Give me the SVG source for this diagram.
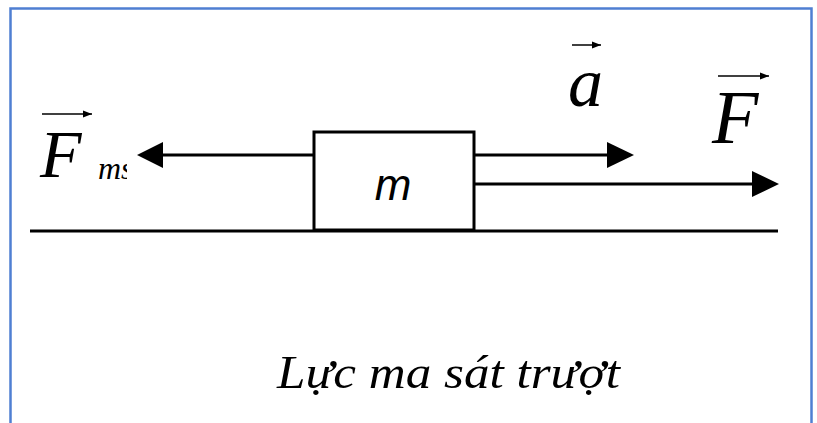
<svg xmlns="http://www.w3.org/2000/svg" width="817" height="423" viewBox="0 0 817 423">
<defs>
<style>
.ln{stroke:#000;stroke-width:3;fill:none}
.head{fill:#000}
.vec{stroke:#000;stroke-width:1.5;fill:none}
.sym{font-family:"Liberation Serif",serif;font-style:italic;fill:#000}
</style>
<marker id="vh" viewBox="0 0 10 10" refX="10" refY="5" markerWidth="9" markerHeight="9" markerUnits="userSpaceOnUse" orient="auto"><path d="M0,1 L10,5 L0,9 Z" fill="#000"/></marker>
<clipPath id="clipms"><rect x="90" y="140" width="37" height="50"/></clipPath>
</defs>
<rect width="817" height="423" fill="#fff"/>
<rect x="10.5" y="8.5" width="801" height="430" fill="none" stroke="#4f7fd2" stroke-width="2.5"/>
<g id="ground"><line class="ln" x1="30" y1="231" x2="778" y2="231"/></g>
<g id="block">
<rect class="ln" x="314" y="132" width="160" height="98" style="fill:#fff"/>
<text x="393" y="200" text-anchor="middle" font-family="'Liberation Sans',sans-serif" font-style="italic" font-size="44">m</text>
</g>
<g id="connectors">
<line class="ln" x1="314" y1="155" x2="160" y2="155"/>
<path class="head" d="M137,155 L163,142 L163,168 Z"/>
<line class="ln" x1="474" y1="155" x2="610" y2="155"/>
<path class="head" d="M634,155 L607,142 L607,168 Z"/>
<line class="ln" x1="474" y1="184" x2="755" y2="184"/>
<path class="head" d="M779,184 L752,171 L752,197 Z"/>
</g>
<g id="label-Fms">
<text class="sym" x="40" y="177" font-size="68">F</text>
<line class="vec" x1="42" y1="114" x2="92" y2="114" marker-end="url(#vh)"/>
<text class="sym" x="98" y="179" font-size="32" clip-path="url(#clipms)">ms</text>
</g>
<g id="label-a">
<text class="sym" x="568" y="106" font-size="70">a</text>
<line class="vec" x1="572" y1="45" x2="601" y2="45" marker-end="url(#vh)"/>
</g>
<g id="label-F">
<text class="sym" x="712" y="143" font-size="76">F</text>
<line class="vec" x1="718" y1="76" x2="769" y2="76" marker-end="url(#vh)"/>
</g>
<g id="caption">
<text class="sym" x="277" y="388" font-size="46" textLength="343" lengthAdjust="spacingAndGlyphs">Lực ma sát trượt</text>
</g>
</svg>
